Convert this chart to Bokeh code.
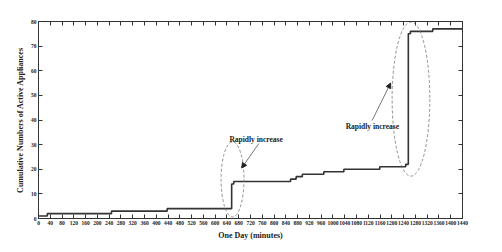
from bokeh.plotting import figure
from bokeh.models import Range1d, LinearAxis, FixedTicker, Arrow, NormalHead, Label
from bokeh.embed import file_html
from bokeh.resources import INLINE

# Data
minutes = [0, 30, 248, 437, 656, 663, 856, 875, 896, 969, 1037, 1159, 1247, 1256, 1263, 1339, 1440]
active = [1, 2, 3, 4, 14, 15, 16, 17, 18, 19, 20, 21, 22, 75, 76, 77, 77]
x_ticks = list(range(0, 1441, 40))
y_ticks = list(range(0, 81, 10))
annotation_text = "Rapidly increase"

FONT = "Liberation Serif"

p = figure(width=502, height=252, output_backend="svg", toolbar_location=None,
           x_range=Range1d(0, 1440), y_range=Range1d(0, 80),
           min_border_left=38, min_border_right=40, min_border_top=21, min_border_bottom=34)
p.background_fill_color = "white"
p.border_fill_color = "white"
p.grid.visible = False
p.outline_line_color = "#333333"
p.outline_line_width = 1

xa = p.xaxis[0]
ya = p.yaxis[0]
for ax, ticks in ((xa, x_ticks), (ya, y_ticks)):
    ax.ticker = FixedTicker(ticks=ticks)
    ax.major_tick_in = 4
    ax.major_tick_out = 0
    ax.minor_tick_line_color = None
    ax.axis_line_color = "#333333"
    ax.major_tick_line_color = "#333333"
    ax.major_label_text_font = FONT
    ax.major_label_text_font_size = "5.5px"
    ax.major_label_text_font_style = "bold"
    ax.major_label_text_color = "#222222"
    ax.major_label_standoff = 2
    ax.axis_label_text_font = FONT
    ax.axis_label_text_font_size = "8px"
    ax.axis_label_text_font_style = "bold"
    ax.axis_label_text_color = "#222222"
    ax.axis_label_standoff = 3

xa.axis_label = "One Day (minutes)"
ya.axis_label = "Cumulative Numbers of Active Appliances"

top = LinearAxis(ticker=FixedTicker(ticks=x_ticks))
right = LinearAxis(ticker=FixedTicker(ticks=y_ticks))
for ax in (top, right):
    ax.major_tick_in = 4
    ax.major_tick_out = 0
    ax.minor_tick_line_color = None
    ax.axis_line_color = "#333333"
    ax.major_tick_line_color = "#333333"
    ax.major_label_text_color = None
    ax.major_label_text_font_size = "0px"
    ax.major_label_standoff = 0
p.add_layout(top, "above")
p.add_layout(right, "right")

p.step(minutes, active, mode="after", line_color="#333333", line_width=1.6)

# Highlight ellipses
p.ellipse(x=[659, 1265], y=[15.9, 48.5], width=[78, 128], height=[30.5, 62.6],
          fill_color=None, line_color="#777777", line_dash="3 2", line_width=0.8)

# Arrows and texts
for (x0, y0, x1, y1) in ((748, 30.4, 690, 20.5), (1133, 39.8, 1196, 55.0)):
    p.add_layout(Arrow(end=NormalHead(size=5, fill_color="#222222", line_color="#222222"),
                       x_start=x0, y_start=y0, x_end=x1, y_end=y1,
                       line_color="#555555", line_width=0.8))

for (tx, ty) in ((739, 32.2), (1134, 37.5)):
    p.add_layout(Label(x=tx, y=ty, text=annotation_text, text_font=FONT,
                       text_font_size="7.5px", text_font_style="bold",
                       text_color="#222222", text_align="center", text_baseline="middle"))

open("out.html", "w").write(file_html(p, INLINE))
